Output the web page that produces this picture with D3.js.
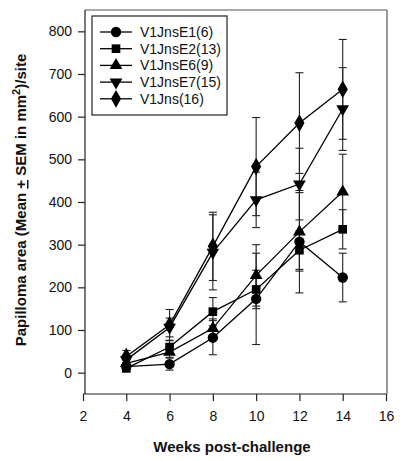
<!DOCTYPE html>
<html><head><meta charset="utf-8">
<script src="https://cdn.jsdelivr.net/npm/d3@7"></script>
<style>body{margin:0;background:#fff}svg{display:block;font-family:"Liberation Sans",Arial,sans-serif}</style>
</head><body><svg id="c" width="400" height="461"></svg>
<script>
const weeks = [4, 6, 8, 10, 12, 14];
const seriesNames = ["V1JnsE1(6)", "V1JnsE2(13)", "V1JnsE6(9)", "V1JnsE7(15)", "V1Jns(16)"];
const symbols = ["circle", "square", "triangle", "triangleDown", "diamond"];
const meanE1 = [14, 20, 82, 173, 307, 223];
const semE1  = [5, 14, 40, 107, 120, 57];
const meanE2 = [10, 60, 143, 195, 287, 336];
const semE2  = [6, 15, 33, 45, 45, 46];
const meanE6 = [22, 48, 104, 228, 330, 424];
const semE6  = [8, 12, 22, 72, 92, 88];
const meanE7 = [30, 106, 282, 405, 442, 618];
const semE7  = [10, 22, 88, 65, 84, 97];
const meanJns = [38, 112, 296, 483, 585, 664];
const semJns  = [14, 36, 80, 115, 118, 117];
const xTicks = [2, 4, 6, 8, 10, 12, 14, 16];
const yTicks = [0, 100, 200, 300, 400, 500, 600, 700, 800];

const means = [meanE1, meanE2, meanE6, meanE7, meanJns];
const sems = [semE1, semE2, semE6, semE7, semJns];

const svg = d3.select("#c");
const x = d3.scaleLinear().domain([2, 16]).range([83, 386]);
const y = d3.scaleLinear().domain([-50, 850]).range([394, 10]);

// frame
const g = svg.append("g");
g.append("line").attr("x1", 85).attr("x2", 387).attr("y1", 10).attr("y2", 10).attr("stroke", "#555").attr("stroke-width", 1.2);
g.append("line").attr("x1", 387).attr("x2", 387).attr("y1", 10).attr("y2", 394).attr("stroke", "#555").attr("stroke-width", 1.2);

// axes
const xAxis = d3.axisBottom(x).tickValues(xTicks).tickSize(7).tickPadding(10);
const xg = svg.append("g").attr("transform", "translate(0,394)").call(xAxis);
xg.select(".domain").attr("d", "M83,0H386").attr("stroke", "#222").attr("stroke-width", 1.2);
xg.selectAll(".tick line").attr("stroke", "#222").attr("stroke-width", 1.2);
xg.selectAll("text").attr("font-size", 14).attr("fill", "#111").attr("font-family", "Liberation Sans, Arial, sans-serif");

const yAxis = d3.axisLeft(y).tickValues(yTicks).tickSize(7).tickPadding(6);
const yg = svg.append("g").attr("transform", "translate(85,0)").call(yAxis);
yg.select(".domain").attr("d", "M0,10V394").attr("stroke", "#222").attr("stroke-width", 1.2);
yg.selectAll(".tick line").attr("stroke", "#222").attr("stroke-width", 1.2);
yg.selectAll("text").attr("font-size", 14).attr("fill", "#111").attr("font-family", "Liberation Sans, Arial, sans-serif");

// titles
svg.append("text").attr("x", 232).attr("y", 452).attr("text-anchor", "middle")
  .attr("font-size", 15).attr("font-weight", "bold").attr("fill", "#111").text("Weeks post-challenge");
const yt = svg.append("text").attr("transform", "translate(26,200) rotate(-90)").attr("text-anchor", "middle")
  .attr("font-size", 15).attr("font-weight", "bold").attr("fill", "#111");
yt.append("tspan").text("Papilloma area (Mean ");
yt.append("tspan").attr("text-decoration", "underline").text("+");
yt.append("tspan").text(" SEM in mm");
yt.append("tspan").attr("dy", -6).attr("font-size", 11).text("2");
yt.append("tspan").attr("dy", 6).text(")/site");

const symMap = {
  circle: d3.symbol().type(d3.symbolCircle).size(85),
  square: d3.symbol().type(d3.symbolSquare).size(75),
  triangle: d3.symbol().type(d3.symbolTriangle).size(70),
  triangleDown: d3.symbol().type(d3.symbolTriangle).size(70),
  diamond: d3.symbol().type(d3.symbolDiamond).size(90)
};
function drawSym(sel, type, cx, cy) {
  sel.append("path").attr("d", symMap[type]())
    .attr("transform", `translate(${cx},${cy})` + (type === "triangleDown" ? " rotate(180)" : ""))
    .attr("fill", "#000");
}

const plot = svg.append("g");
// error bars
means.forEach((m, si) => {
  const s = sems[si];
  weeks.forEach((w, i) => {
    const cx = x(w), top = y(m[i] + s[i]), bot = y(m[i] - s[i]);
    plot.append("line").attr("x1", cx).attr("x2", cx).attr("y1", top).attr("y2", bot).attr("stroke", "#222").attr("stroke-width", 1.1);
    [top, bot].forEach(yy => plot.append("line").attr("x1", cx - 4).attr("x2", cx + 4).attr("y1", yy).attr("y2", yy).attr("stroke", "#222").attr("stroke-width", 1.1));
  });
});
// lines
const line = d3.line().x((d, i) => x(weeks[i])).y(d => y(d));
means.forEach(m => {
  plot.append("path").attr("d", line(m)).attr("fill", "none").attr("stroke", "#000").attr("stroke-width", 1.3);
});
// markers
means.forEach((m, si) => {
  weeks.forEach((w, i) => drawSym(plot, symbols[si], x(w), y(m[i])));
});

// legend
const lg = svg.append("g");
lg.append("rect").attr("x", 92).attr("y", 16).attr("width", 135).attr("height", 99)
  .attr("fill", "#fff").attr("stroke", "#222").attr("stroke-width", 1.2);
seriesNames.forEach((name, i) => {
  const ly = 32 + i * 16.7;
  lg.append("line").attr("x1", 100).attr("x2", 132).attr("y1", ly).attr("y2", ly).attr("stroke", "#000").attr("stroke-width", 1.3);
  drawSym(lg, symbols[i], 116, ly);
  lg.append("text").attr("x", 140).attr("y", ly + 5).attr("font-size", 14).attr("fill", "#111").text(name);
});
</script></body></html>
